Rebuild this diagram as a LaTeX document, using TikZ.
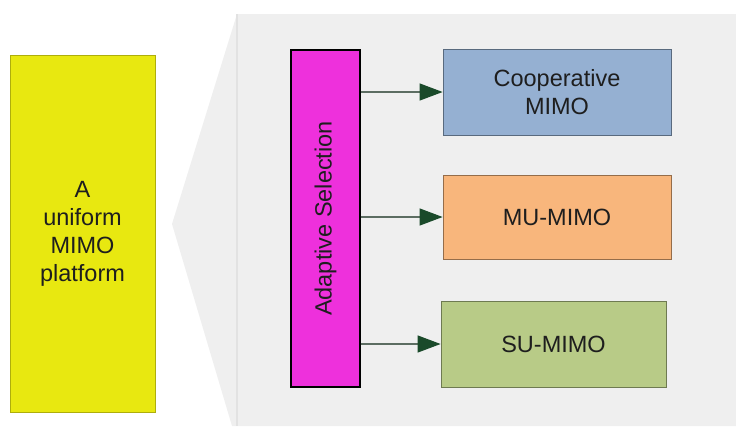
\documentclass[tikz,border=0pt]{standalone}
\usepackage{fontspec}
\setmainfont{Liberation Sans}
\usepackage{tikz}
\usetikzlibrary{arrows.meta,positioning,calc}
\definecolor{panelGray}  {RGB}{239, 239, 239}
\definecolor{panelEdge}  {RGB}{226, 226, 226}
\definecolor{platYellow} {RGB}{232, 232,  16}
\definecolor{selMagenta} {RGB}{238,  48, 220}
\definecolor{coopBlue}   {RGB}{149, 176, 210}
\definecolor{muOrange}   {RGB}{248, 182, 124}
\definecolor{suGreen}    {RGB}{184, 203, 135}
\definecolor{arrGreen}   {RGB}{ 26,  74,  42}
\definecolor{txtGray}    {RGB}{ 30,  30,  30}
\tikzset{
  modebox/.style={draw=#1!60!black,fill=#1,line width=0.8pt,
                  minimum height=86pt,align=center,text=txtGray,
                  font=\fontsize{23.5}{28}\selectfont},
  modearrow/.style={-{Triangle[length=23pt,width=17pt,color=arrGreen,fill=arrGreen]},
                    draw=arrGreen!35!gray,line width=1.2pt}
}

\begin{document}
\begin{tikzpicture}[x=1pt,y=-1pt]
    \useasboundingbox (0,0) rectangle (736,426);

    % ── PAINEL CINZA ──────────────────────────────────────
    \fill[panelGray] (237,14) -- (736,14) -- (736,426) -- (232,426)
      -- (172,224) -- cycle;
    \draw[panelEdge,line width=2pt] (237,14) -- (237,426);

    % ── PLATAFORMA ────────────────────────────────────────
    \node[draw=platYellow!75!black,fill=platYellow,line width=0.8pt,
          minimum width=145pt,minimum height=357pt,align=center,
          text=txtGray,font=\fontsize{23.5}{28}\selectfont]
          (plat) at (82.5,233.5){A\\uniform\\MIMO\\platform};

    % ── SELECAO ───────────────────────────────────────────
    \node[draw=black,fill=selMagenta,line width=1.2pt,
          minimum width=69pt,minimum height=337pt]
          (sel) at (325.5,218.5){};
    \node[rotate=90,text=txtGray,font=\fontsize{23.5}{28}\selectfont]
          (seltxt) at (sel.center){Adaptive Selection};

    % ── MODOS ─────────────────────────────────────────────
    \node[modebox=coopBlue,minimum width=228pt]
          (coop) at (557,92){Cooperative\\MIMO};
    \node[modebox=muOrange,minimum width=228pt,minimum height=84pt]
          (mumimo) at (557,217){MU-MIMO};
    \node[modebox=suGreen,minimum width=225pt]
          (sumimo) at (553.5,344){SU-MIMO};

    % Setas
    \foreach \m in {coop,mumimo,sumimo}{
      \draw[modearrow] (sel.east |- \m.west) -- (\m.west);
    }

  \end{tikzpicture}
\end{document}
